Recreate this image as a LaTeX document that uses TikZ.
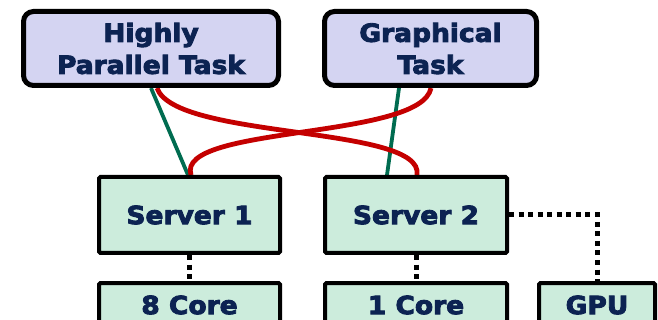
\documentclass[tikz,border=0pt]{standalone}
\usepackage{fontspec}
\usetikzlibrary{backgrounds}
\newfontfamily\boxfont[FakeStretch=1.06, FakeBold=3.5]{DejaVu Sans Bold}

\definecolor{navy}{RGB}{12,35,82}
\definecolor{taskfill}{RGB}{212,212,242}
\definecolor{hwfill}{RGB}{204,236,220}
\definecolor{linkgreen}{RGB}{0,108,80}
\definecolor{linkred}{RGB}{196,0,0}

\tikzset{
  taskbox/.style={draw=black, line width=5pt, rounded corners=10pt, fill=taskfill,
    text=navy, align=center, inner sep=0pt, minimum height=74pt,
    font=\boxfont\fontsize{25}{32}\selectfont},
  hwbox/.style={draw=black, line width=4pt, rounded corners=1.5pt, fill=hwfill,
    text=navy, inner sep=0pt, font=\boxfont\fontsize{25}{32}\selectfont},
  greenlink/.style={draw=linkgreen, line width=3.8pt},
  redlink/.style={draw=linkred, line width=4.8pt},
  dotlink/.style={draw=black, line width=5pt, dash pattern=on 5pt off 4.5pt}
}

\begin{document}
\begin{tikzpicture}[x=1pt, y=-1pt]
  \clip (0,0) rectangle (658,320);

  % tasks
  \node[taskbox, minimum width=255pt] (hpt) at (151,48.5) {Highly\\Parallel Task};
  \node[taskbox, minimum width=212pt] (gt) at (430.5,48.5) {Graphical\\Task};

  % servers
  \node[hwbox, minimum width=181pt, minimum height=76pt] (s1) at (189.5,215) {Server 1};
  \node[hwbox, minimum width=182pt, minimum height=76pt] (s2) at (416,215) {Server 2};

  % processing units
  \node[hwbox, minimum width=181pt, minimum height=44pt] (c8) at (189.5,305) {8 Core};
  \node[hwbox, minimum width=182pt, minimum height=44pt] (c1) at (416,305) {1 Core};
  \node[hwbox, minimum width=116pt, minimum height=44pt] (gpu) at (597,305) {GPU};

  \begin{scope}[on background layer]
    % task placement
    \draw[greenlink] (hpt.south) -- ([xshift=-1.5pt]s1.north);
    \draw[greenlink] ([xshift=-31.5pt]gt.south) -- ([xshift=-29pt]s2.north);
    \draw[redlink] ([xshift=6pt]hpt.south) .. controls +(18,52) and +(8,-50) .. ([xshift=1pt]s2.north);
    \draw[redlink] ([xshift=0.5pt]gt.south) .. controls +(-10,52) and +(-16,-50) .. ([xshift=1.5pt]s1.north);

    % hardware
    \draw[dotlink] (s1.south) -- (c8.north);
    \draw[dotlink] (s2.south) -- (c1.north);
    \draw[dotlink] (s2.east) -| (gpu.north);
  \end{scope}
\end{tikzpicture}
\end{document}
